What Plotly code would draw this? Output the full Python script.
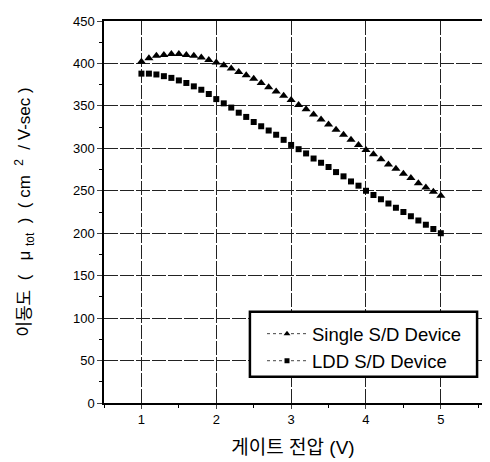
import plotly.graph_objects as go

gate_v = [round(1.0 + 0.1 * i, 1) for i in range(41)]
single_sd = [402, 406, 409, 410, 411, 411, 410, 409, 407, 404,
             401, 398, 394, 390, 386, 382, 377, 372, 367, 362,
             357, 351, 346, 340, 334, 328, 322, 316, 310, 304,
             298, 293, 287, 281, 276, 270, 265, 259, 254, 249, 244]
ldd_sd = [388, 388, 387, 385, 383, 380, 377, 373, 369, 364,
          358, 353, 348, 342, 337, 331, 326, 321, 316, 310,
          304, 299, 294, 288, 283, 278, 272, 267, 261, 256,
          250, 245, 240, 235, 230, 225, 220, 215, 210, 205, 200]
x_ticks = [1, 2, 3, 4, 5]
y_ticks = [0, 50, 100, 150, 200, 250, 300, 350, 400, 450]

FONT = "Liberation Sans, Arial, Noto Sans CJK KR, sans-serif"
KFONT = "Liberation Sans, Noto Sans CJK KR, sans-serif"
S = "\u00a0"

fig = go.Figure()
fig.add_trace(go.Scatter(x=gate_v, y=single_sd, mode="markers", showlegend=False,
                         marker=dict(symbol="triangle-up", size=8, color="black")))
fig.add_trace(go.Scatter(x=gate_v, y=ldd_sd, mode="markers", showlegend=False,
                         marker=dict(symbol="square", size=6, color="black")))
# legend entries
fig.add_trace(go.Scatter(x=[None], y=[None], mode="lines+markers", name="Single S/D Device",
                         line=dict(color="#444", width=1, dash="dot"),
                         marker=dict(symbol="triangle-up", size=6, color="black")))
fig.add_trace(go.Scatter(x=[None], y=[None], mode="lines+markers", name="LDD S/D Device",
                         line=dict(color="#444", width=1, dash="dot"),
                         marker=dict(symbol="square", size=5, color="black")))

fig.add_shape(type="rect", xref="paper", yref="paper",
              x0=0.386, x1=0.987, y0=0.069, y1=0.239,
              fillcolor="white", line=dict(color="black", width=2.5), layer="above")

ytitle = ("이동도" + S * 2 + "(" + S * 3 + "μ" + S + "<sub>tot</sub>" + S * 2 + ")" + S * 2 +
          "(" + S + "cm" + S * 2 + "<sup>2</sup>" + S * 2 + "/" + S + "V-sec" + S + ")")

fig.update_layout(
    width=482, height=454,
    margin=dict(l=96, r=8, t=6, b=59),
    paper_bgcolor="white", plot_bgcolor="white",
    font=dict(family=FONT, color="black"),
    legend=dict(x=0.418, y=0.23, xanchor="left", yanchor="top",
                bgcolor="rgba(0,0,0,0)", borderwidth=0,
                font=dict(size=18.5, family=FONT), tracegroupgap=0,
                itemwidth=40),
    xaxis=dict(range=[0.5, 5.55], tickvals=x_ticks, ticks="outside", ticklen=4,
               tickfont=dict(size=13), showline=True, linecolor="black", linewidth=1.5,
               mirror=True, showgrid=True, gridcolor="#222", griddash="14px,2px", gridwidth=1,
               zeroline=False,
               minor=dict(dtick=0.5, ticks="outside", ticklen=3, tickcolor="black", showgrid=False),
               title=dict(text="게이트 전압 (V)", font=dict(size=19, family=KFONT), standoff=14)),
    yaxis=dict(range=[0, 450], tickvals=y_ticks, ticks="outside", ticklen=5,
               tickfont=dict(size=13), showline=True, linecolor="black", linewidth=1.5,
               mirror=True, showgrid=True, gridcolor="#222", griddash="14px,2px", gridwidth=1,
               zeroline=False,
               minor=dict(dtick=25, ticks="outside", ticklen=3, tickcolor="black", showgrid=False),
               title=dict(text=ytitle, font=dict(size=17, family=KFONT), standoff=38)),
)

fig.write_html("out.html")
